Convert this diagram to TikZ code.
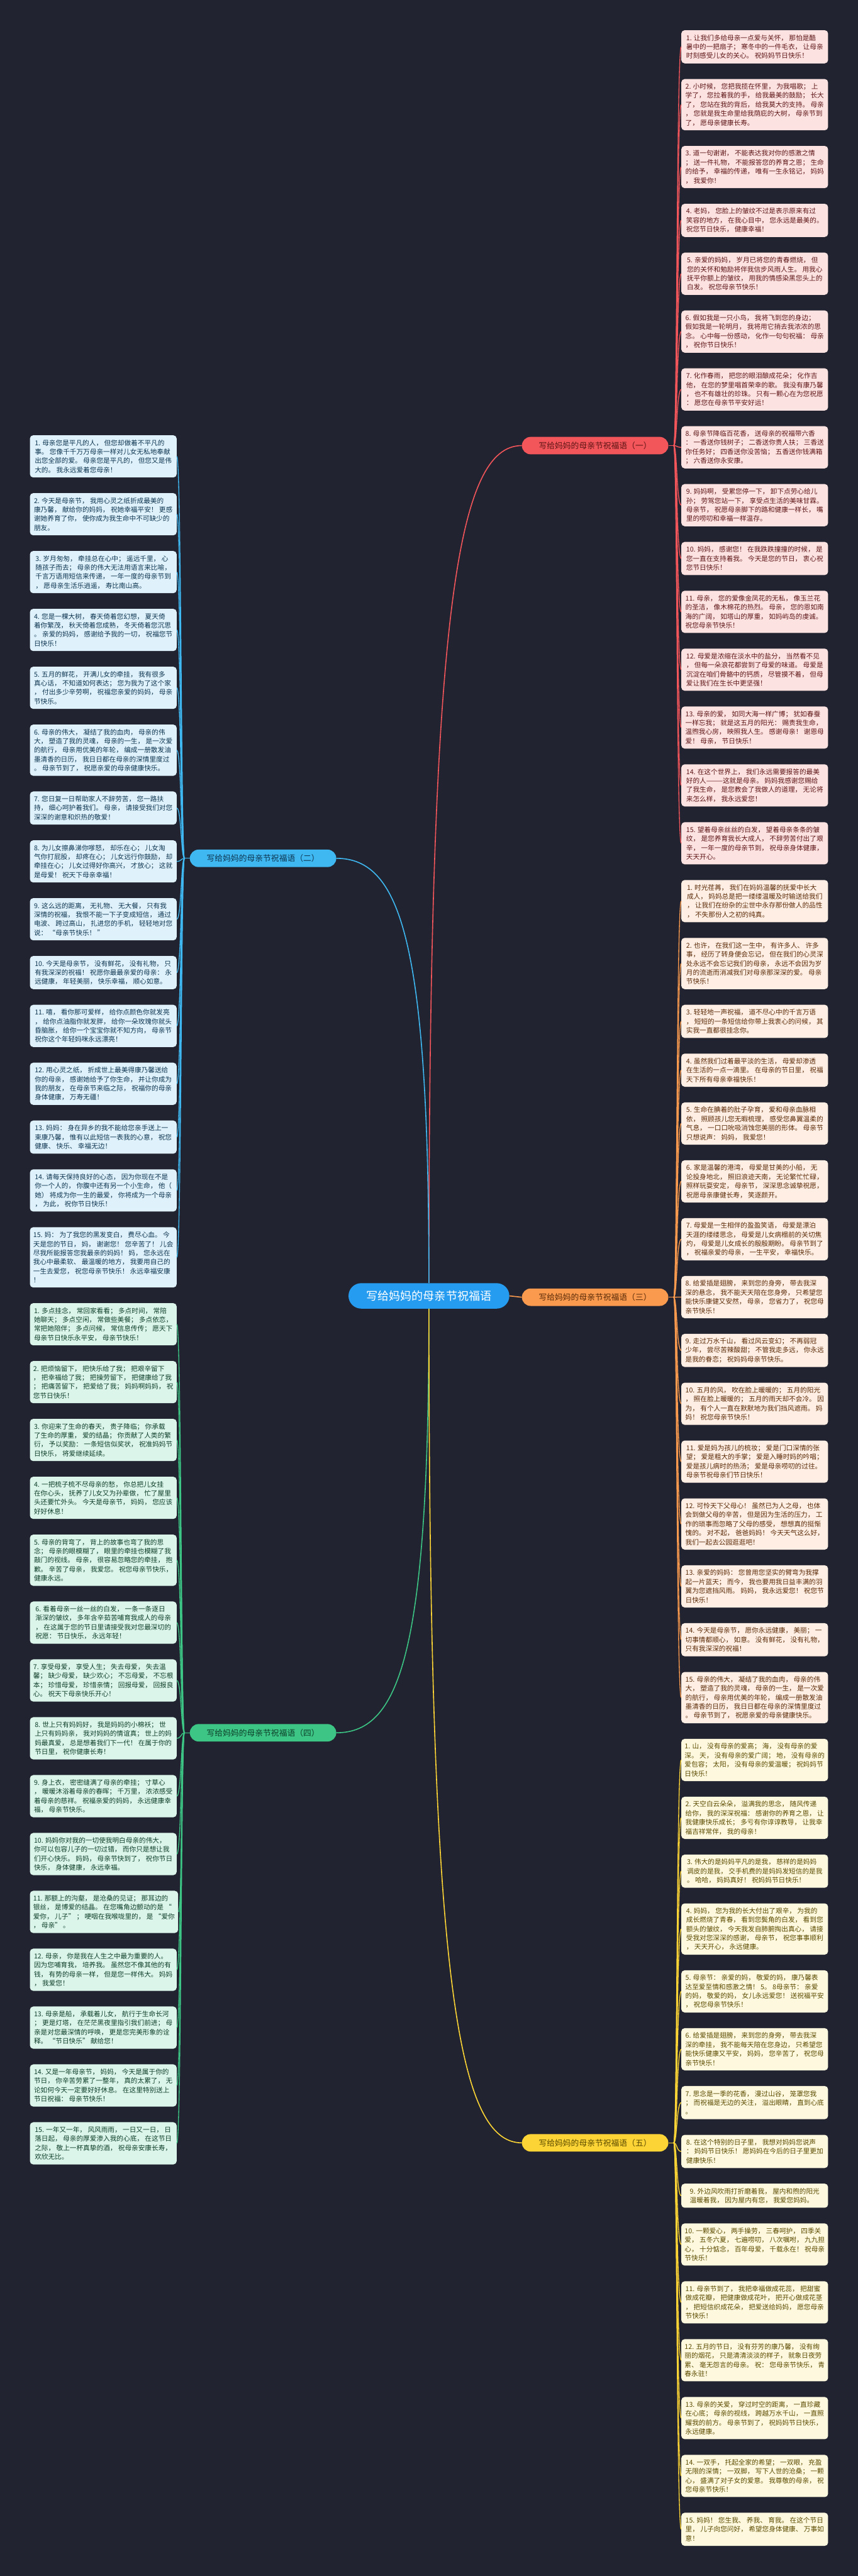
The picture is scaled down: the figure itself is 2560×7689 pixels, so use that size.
\documentclass[tikz,border=0pt]{standalone}
\usepackage{fontspec}
\setmainfont{Noto Sans CJK SC}
\usetikzlibrary{calc}
\definecolor{bg}{HTML}{212430}
\definecolor{cred}{HTML}{F2555A}\definecolor{credf}{HTML}{FDE2E2}\definecolor{credt}{HTML}{5E1616}
\definecolor{cora}{HTML}{F99A4E}\definecolor{coraf}{HTML}{FEEEE3}\definecolor{corat}{HTML}{5B2B08}
\definecolor{cyel}{HTML}{FCD435}\definecolor{cyelf}{HTML}{FDF8DE}\definecolor{cyelt}{HTML}{5C4B00}
\definecolor{cblu}{HTML}{3FB8F2}\definecolor{cbluf}{HTML}{DFF2FC}\definecolor{cblut}{HTML}{0E3550}
\definecolor{cgre}{HTML}{3CC584}\definecolor{cgref}{HTML}{DCF5EA}\definecolor{cgret}{HTML}{0E3F2B}
\definecolor{ccen}{HTML}{259CF0}
\newcommand\ycur{0}
\newcommand\xcur{0}
\newcommand\leafnode[4]{%
  \pgfmathsetmacro\leafh{27*#2+18}%
  \node[#3, minimum height=\leafh pt, anchor=north west] (#1) at (\xcur,\ycur) {#4};%
  \pgfmathparse{\ycur+\leafh+46.7}\xdef\ycur{\pgfmathresult}%
}
\tikzset{
  leafbase/.style={rounded corners=10pt, minimum width=438pt, inner xsep=10pt, inner ysep=0pt, align=left, font={\fontsize{20pt}{27pt}\selectfont}},
  redleaf/.style={leafbase, fill=credf, text=credt},
  oraleaf/.style={leafbase, fill=coraf, text=corat},
  yelleaf/.style={leafbase, fill=cyelf, text=cyelt},
  bluleaf/.style={leafbase, fill=cbluf, text=cblut},
  greleaf/.style={leafbase, fill=cgref, text=cgret},
  branchlabel/.style={rounded corners=26pt, minimum width=437pt, minimum height=52pt, inner sep=0pt, font={\fontsize{24pt}{28pt}\selectfont}},
  bconn/.style={line width=3pt},
  lconn/.style={line width=2.5pt},
}
\begin{document}
\begin{tikzpicture}[x=1pt,y=-1pt]
\fill[bg] (0,0) rectangle (2560,7689);
\useasboundingbox (0,0) rectangle (2560,7689);

% central and branch nodes
\node[rounded corners=38pt, minimum width=480pt, minimum height=76pt, fill=ccen, text=white, font={\fontsize{34pt}{40pt}\selectfont}] (c) at (1280,3868) {写给妈妈的母亲节祝福语};
\node[branchlabel, fill=cred, text=credt] (b1) at (1776,1330) {写给妈妈的母亲节祝福语（一）};
\node[branchlabel, fill=cblu, text=cblut] (b2) at (785,2562) {写给妈妈的母亲节祝福语（二）};
\node[branchlabel, fill=cora, text=corat] (b3) at (1776,3872) {写给妈妈的母亲节祝福语（三）};
\node[branchlabel, fill=cgre, text=cgret] (b4) at (785,5172) {写给妈妈的母亲节祝福语（四）};
\node[branchlabel, fill=cyel, text=cyelt] (b5) at (1776,6396) {写给妈妈的母亲节祝福语（五）};

% ---------- right column ----------
\xdef\xcur{2033}\xdef\ycur{90}
\leafnode{r1}{3}{redleaf}{1. 让我们多给母亲一点爱与关怀， 那怕是酷\\暑中的一把扇子； 寒冬中的一件毛衣， 让母亲\\时刻感受儿女的关心。 祝妈妈节日快乐！}
\leafnode{r2}{5}{redleaf}{2. 小时候， 您把我揽在怀里， 为我唱歌； 上\\学了， 您拉着我的手， 给我最美的鼓励； 长大\\了， 您站在我的背后， 给我莫大的支持。 母亲\\， 您就是我生命里给我荫庇的大树， 母亲节到\\了， 愿母亲健康长寿。}
\leafnode{r3}{4}{redleaf}{3. 道一句谢谢， 不能表达我对你的感激之情\\； 送一件礼物， 不能报答您的养育之恩； 生命\\的给予， 幸福的传递， 唯有一生永铭记， 妈妈\\， 我爱你！}
\leafnode{r4}{3}{redleaf}{4. 老妈， 您脸上的皱纹不过是表示原来有过\\笑容的地方， 在我心目中， 您永远是最美的。\\祝您节日快乐， 健康幸福！}
\leafnode{r5}{4}{redleaf}{5. 亲爱的妈妈， 岁月已将您的青春燃烧， 但\\您的关怀和勉励将伴我信步风雨人生。 用我心\\抚平你额上的皱纹， 用我的情感染黑您头上的\\白发。 祝您母亲节快乐！}
\leafnode{r6}{4}{redleaf}{6. 假如我是一只小鸟， 我将飞到您的身边；\\假如我是一轮明月， 我将用它捎去我浓浓的思\\念。 心中每一份感动， 化作一句句祝福： 母亲\\， 祝你节日快乐！}
\leafnode{r7}{4}{redleaf}{7. 化作春雨， 把您的眼泪酿成花朵； 化作吉\\他， 在您的梦里唱首荣幸的歌。 我没有康乃馨\\， 也不有雄壮的珍珠。 只有一颗心在为您祝愿\\： 愿您在母亲节平安好运！}
\leafnode{r8}{4}{redleaf}{8. 母亲节降临百花香， 送母亲的祝福带六香\\： 一香送你钱树子； 二香送你贵人扶； 三香送\\你任务好； 四香送你没苦恼； 五香送你钱满箱\\； 六香送你永安康。}
\leafnode{r9}{4}{redleaf}{9. 妈妈啊， 受累您停一下， 卸下点劳心给儿\\孙； 劳驾您站一下， 享受点生活的美味甘霖。\\母亲节， 祝愿母亲脚下的路和健康一样长， 嘴\\里的唠叨和幸福一样温存。}
\leafnode{r10}{3}{redleaf}{10. 妈妈， 感谢您！ 在我跌跌撞撞的时候， 是\\您一直在支持着我。 今天是您的节日， 衷心祝\\您节日快乐！}
\leafnode{r11}{4}{redleaf}{11. 母亲， 您的爱像金凤花的无私， 像玉兰花\\的圣洁， 像木棉花的热烈。 母亲， 您的恩如南\\海的广阔， 如塔山的厚重， 如妈屿岛的虔诚。\\祝您母亲节快乐！}
\leafnode{r12}{4}{redleaf}{12. 母爱是浓缩在淡水中的盐分， 当然看不见\\， 但每一朵浪花都尝到了母爱的味道。 母爱是\\沉淀在咱们骨骼中的钙质， 尽管摸不着， 但母\\爱让我们在生长中更坚强！}
\leafnode{r13}{4}{redleaf}{13. 母亲的爱， 如同大海一样广博； 犹如春蚕\\一样忘我； 就是这五月的阳光： 赐责我生命，\\温煦我心房， 映照我人生。 感谢母亲！ 谢恩母\\爱！ 母亲， 节日快乐！}
\leafnode{r14}{4}{redleaf}{14. 在这个世界上， 我们永远需要报答的最美\\好的人———这就是母亲。 妈妈我感谢您赐给\\了我生命， 是您教会了我做人的道理， 无论将\\来怎么样， 我永远爱您！}
\leafnode{r15}{4}{redleaf}{15. 望着母亲丝丝的白发， 望着母亲条条的皱\\纹， 是您养育我长大成人， 不辞劳苦付出了艰\\辛， 一年一度的母亲节到， 祝母亲身体健康，\\天天开心。}
\leafnode{o1}{4}{oraleaf}{1. 时光荏苒， 我们在妈妈温馨的抚爱中长大\\成人， 妈妈总是把一缕缕温暖及时输送给我们\\， 让我们在纷杂的尘世中永存那份做人的品性\\， 不失那份人之初的纯真。}
\leafnode{o2}{5}{oraleaf}{2. 也许， 在我们这一生中， 有许多人、 许多\\事， 经历了转身便会忘记， 但在我们的心灵深\\处永远不会忘记我们的母亲， 永远不会因为岁\\月的流逝而消减我们对母亲那深深的爱。 母亲\\节快乐！}
\leafnode{o3}{3}{oraleaf}{3. 轻轻地一声祝福， 道不尽心中的千言万语\\， 短短的一条短信给你带上我衷心的问候， 其\\实我一直都很挂念你。}
\leafnode{o4}{3}{oraleaf}{4. 虽然我们过着最平淡的生活， 母爱却渗透\\在生活的一点一滴里。 在母亲的节日里， 祝福\\天下所有母亲幸福快乐！}
\leafnode{o5}{4}{oraleaf}{5. 生命在腆着的肚子孕育， 爱和母亲血脉相\\依， 照顾孩儿您无暇梳理， 感受您鼻翼温柔的\\气息， 一口口吮吸消蚀您美丽的形体。 母亲节\\只想说声： 妈妈， 我爱您！}
\leafnode{o6}{4}{oraleaf}{6. 家是温馨的港湾， 母爱是甘美的小船， 无\\论投身地北， 照旧浪迹天南， 无论繁忙忙碌，\\照样玩耍安定， 母亲节， 深深思念诚挚祝愿，\\祝愿母亲康健长寿， 笑逐颜开。}
\leafnode{o7}{4}{oraleaf}{7. 母爱是一生相伴的盈盈笑语， 母爱是漂泊\\天涯的缕缕思念， 母爱是儿女病榻前的关切焦\\灼， 母爱是儿女成长的殷殷期盼。 母亲节到了\\， 祝福亲爱的母亲， 一生平安， 幸福快乐。}
\leafnode{o8}{4}{oraleaf}{8. 给爱插是翅膀， 来到您的身旁， 带去我深\\深的悬念， 我不能天天陪在您身旁， 只希望您\\能快乐康健又安然， 母亲， 您省力了， 祝您母\\亲节快乐！}
\leafnode{o9}{3}{oraleaf}{9. 走过万水千山， 看过风云变幻； 不再弱冠\\少年， 尝尽苦辣酸甜； 不管我走多远， 你永远\\是我的眷恋； 祝妈妈母亲节快乐。}
\leafnode{o10}{4}{oraleaf}{10. 五月的风， 吹在脸上暖暖的； 五月的阳光\\， 照在脸上暖暖的； 五月的雨天却不会冷。 因\\为， 有个人一直在默默地为我们挡风遮雨。 妈\\妈！ 祝您母亲节快乐！}
\leafnode{o11}{4}{oraleaf}{11. 爱是妈为孩儿的梳妆； 爱是门口深情的张\\望； 爱是粗大的手掌； 爱是入睡时妈的吟唱；\\爱是孩儿病时的热汤； 爱是母亲唠叨的过往。\\母亲节祝母亲们节日快乐！}
\leafnode{o12}{5}{oraleaf}{12. 可怜天下父母心！ 虽然已为人之母， 也体\\会到做父母的辛苦， 但是因为生活的压力， 工\\作的琐事而忽略了父母的感受， 想想真的挺惭\\愧的。 对不起， 爸爸妈妈！ 今天天气这么好，\\我们一起去公园逛逛吧！}
\leafnode{o13}{4}{oraleaf}{13. 亲爱的妈妈： 您曾用您坚实的臂弯为我撑\\起一片蓝天； 而今， 我也要用我日益丰满的羽\\翼为您遮挡风雨。 妈妈， 我永远爱您！ 祝您节\\日快乐！}
\leafnode{o14}{3}{oraleaf}{14. 今天是母亲节， 愿你永远健康， 美丽； 一\\切事情都顺心， 如意。 没有鲜花， 没有礼物，\\只有我深深的祝福！}
\leafnode{o15}{5}{oraleaf}{15. 母亲的伟大， 凝结了我的血肉， 母亲的伟\\大， 塑造了我的灵魂， 母亲的一生， 是一次爱\\的航行， 母亲用优美的年轮， 编成一册散发油\\墨清香的日历， 我日日都在母亲的深情里度过\\。 母亲节到了， 祝愿亲爱的母亲健康快乐。}
\leafnode{y1}{4}{yelleaf}{1. 山， 没有母亲的爱高； 海， 没有母亲的爱\\深。 天， 没有母亲的爱广阔； 地， 没有母亲的\\爱包容； 太阳， 没有母亲的爱温暖； 祝妈妈节\\日快乐！}
\leafnode{y2}{4}{yelleaf}{2. 天空白云朵朵， 溢满我的思念， 随风传递\\给你， 我的深深祝福： 感谢你的养育之恩， 让\\我健康快乐成长； 多亏有你谆谆教导， 让我幸\\福吉祥常伴， 我的母亲！}
\leafnode{y3}{3}{yelleaf}{3. 伟大的是妈妈平凡的是我， 慈祥的是妈妈\\调皮的是我， 交手机费的是妈妈发短信的是我\\。 哈哈， 妈妈真好！ 祝妈妈节日快乐！}
\leafnode{y4}{5}{yelleaf}{4. 妈妈， 您为我的长大付出了艰辛， 为我的\\成长燃烧了青春， 看到您鬓角的白发， 看到您\\额头的皱纹， 今天我发自肺腑掏出真心， 请接\\受我对您深深的感谢， 母亲节， 祝您事事顺利\\， 天天开心， 永远健康。}
\leafnode{y5}{4}{yelleaf}{5. 母亲节： 亲爱的妈， 敬爱的妈， 康乃馨表\\达至爱至情和感激之情！ 5。 8母亲节： 亲爱\\的妈， 敬爱的妈， 女儿永远爱您！ 送祝福平安\\， 祝您母亲节快乐！}
\leafnode{y6}{4}{yelleaf}{6. 给爱插是翅膀， 来到您的身旁， 带去我深\\深的牵挂， 我不能每天陪在您身边， 只希望您\\能快乐健康又平安， 妈妈， 您辛苦了， 祝您母\\亲节快乐！}
\leafnode{y7}{3}{yelleaf}{7. 思念是一季的花香， 漫过山谷， 笼罩您我\\； 而祝福是无边的关注， 溢出眼睛， 直到心底\\。}
\leafnode{y8}{3}{yelleaf}{8. 在这个特别的日子里， 我想对妈妈您说声\\： 妈妈节日快乐！ 愿妈妈在今后的日子里更加\\健康快乐！}
\leafnode{y9}{2}{yelleaf}{9. 外边风吹雨打折磨着我， 屋内和煦的阳光\\温暖着我， 因为屋内有您， 我爱您妈妈。}
\leafnode{y10}{4}{yelleaf}{10. 一颗爱心， 两手操劳， 三春呵护， 四季关\\爱， 五冬六夏， 七遍唠叨， 八次嘱咐， 九九担\\心， 十分惦念， 百年母爱， 千载永在！ 祝母亲\\节快乐！}
\leafnode{y11}{4}{yelleaf}{11. 母亲节到了， 我把幸福做成花蕊， 把甜蜜\\做成花瓣， 把健康做成花叶， 把开心做成花茎\\， 把短信织成花朵， 把爱送给妈妈， 愿您母亲\\节快乐！}
\leafnode{y12}{4}{yelleaf}{12. 五月的节日， 没有芬芳的康乃馨， 没有绚\\丽的烟花， 只是清清淡淡的样子， 就象日夜劳\\累、 毫无怨言的母亲。 祝： 您母亲节快乐， 青\\春永驻！}
\leafnode{y13}{4}{yelleaf}{13. 母亲的关爱， 穿过时空的距离， 一直珍藏\\在心底； 母亲的视线， 跨越万水千山， 一直照\\耀我的前方。 母亲节到了， 祝妈妈节日快乐，\\永远健康。}
\leafnode{y14}{4}{yelleaf}{14. 一双手， 托起全家的希望； 一双眼， 充盈\\无限的深情； 一双脚， 写下人世的沧桑； 一颗\\心， 盛满了对子女的爱意。 我尊敬的母亲， 祝\\您母亲节快乐！}
\leafnode{y15}{3}{yelleaf}{15. 妈妈！ 您生我、 养我、 育我。 在这个节日\\里， 儿子向您问好， 希望您身体健康、 万事如\\意！}

% ---------- left column ----------
\xdef\xcur{89}\xdef\ycur{1299}
\leafnode{l1}{4}{bluleaf}{1. 母亲您是平凡的人， 但您却做着不平凡的\\事。 您像千千万万母亲一样对儿女无私地奉献\\出您全部的爱。 母亲您是平凡的， 但您又是伟\\大的。 我永远爱着您母亲！}
\leafnode{l2}{4}{bluleaf}{2. 今天是母亲节， 我用心灵之纸折成最美的\\康乃馨， 献给你的妈妈， 祝她幸福平安！ 更感\\谢她养育了你， 使你成为我生命中不可缺少的\\朋友。}
\leafnode{l3}{4}{bluleaf}{3. 岁月匆匆， 牵挂总在心中； 遥远千里， 心\\随孩子而去； 母亲的伟大无法用语言来比喻，\\千言万语用短信来传递， 一年一度的母亲节到\\， 愿母亲生活乐逍遥， 寿比南山高。}
\leafnode{l4}{4}{bluleaf}{4. 您是一棵大树， 春天倚着您幻想， 夏天倚\\着你繁茂， 秋天倚着您成熟， 冬天倚着您沉思\\。 亲爱的妈妈， 感谢给予我的一切， 祝福您节\\日快乐！}
\leafnode{l5}{4}{bluleaf}{5. 五月的鲜花， 开满儿女的牵挂， 我有很多\\真心话， 不知道如何表达； 您为我为了这个家\\， 付出多少辛劳啊， 祝福您亲爱的妈妈， 母亲\\节快乐。}
\leafnode{l6}{5}{bluleaf}{6. 母亲的伟大， 凝结了我的血肉， 母亲的伟\\大， 塑造了我的灵魂， 母亲的一生， 是一次爱\\的航行， 母亲用优美的年轮， 编成一册散发油\\墨清香的日历， 我日日都在母亲的深情里度过\\。 母亲节到了， 祝愿亲爱的母亲健康快乐。}
\leafnode{l7}{3}{bluleaf}{7. 您日复一日帮助家人不辞劳苦， 您一路扶\\持， 细心呵护着我们。 母亲， 请接受我们对您\\深深的谢意和炽热的敬爱！}
\leafnode{l8}{4}{bluleaf}{8. 为儿女擦鼻涕你嗲怒， 却乐在心； 儿女淘\\气你打屁股， 却疼在心； 儿女远行你鼓励， 却\\牵挂在心； 儿女过得好你高兴， 才放心； 这就\\是母爱！ 祝天下母亲幸福！}
\leafnode{l9}{4}{bluleaf}{9. 这么远的距离， 无礼物、 无大餐， 只有我\\深情的祝福， 我恨不能一下子变成短信， 通过\\电波、 跨过高山， 扎进您的手机， 轻轻地对您\\说： “母亲节快乐！ ”}
\leafnode{l10}{3}{bluleaf}{10. 今天是母亲节， 没有鲜花， 没有礼物， 只\\有我深深的祝福！ 祝愿你最最亲爱的母亲： 永\\远健康， 年轻美丽， 快乐幸福， 顺心如意。}
\leafnode{l11}{4}{bluleaf}{11. 嘻， 看你那可爱样， 给你点颜色你就发亮\\， 给你点油脂你就发胖， 给你一朵玫瑰你就头\\昏脑胀， 给你一个宝宝你就不知方向， 母亲节\\祝你这个年轻妈咪永远漂亮！}
\leafnode{l12}{4}{bluleaf}{12. 用心灵之纸， 折成世上最美得康乃馨送给\\你的母亲， 感谢她给予了你生命， 并让你成为\\我的朋友， 在母亲节来临之际， 祝福你的母亲\\身体健康， 万寿无疆！}
\leafnode{l13}{3}{bluleaf}{13. 妈妈： 身在异乡的我不能给您亲手送上一\\束康乃馨， 惟有以此短信一表我的心意， 祝您\\健康、 快乐、 幸福无边！}
\leafnode{l14}{4}{bluleaf}{14. 请每天保持良好的心态， 因为你现在不是\\你一个人的， 你腹中还有另一个小生命， 他（\\她） 将成为你一生的最爱， 你将成为一个母亲\\， 为此， 祝你节日快乐！}
\leafnode{l15}{6}{bluleaf}{15. 妈： 为了我您的黑发变白， 费尽心血。 今\\天是您的节日， 妈， 谢谢您！ 您辛苦了！ 儿会\\尽我所能报答您我最亲的妈妈！ 妈， 您永远在\\我心中最柔软、 最温暖的地方， 我要用自己的\\一生去爱您， 祝您母亲节快乐！ 永远幸福安康\\！}
\leafnode{g1}{4}{greleaf}{1. 多点挂念， 常回家看看； 多点时间， 常陪\\她聊天； 多点空闲， 常做些美餐； 多点依恋，\\常把她陪伴； 多点问候， 常信息传传； 愿天下\\母亲节日快乐永平安， 母亲节快乐！}
\leafnode{g2}{4}{greleaf}{2. 把烦恼留下， 把快乐给了我； 把艰辛留下\\， 把幸福给了我； 把操劳留下， 把健康给了我\\； 把痛苦留下， 把爱给了我； 妈妈啊妈妈， 祝\\您节日快乐！}
\leafnode{g3}{4}{greleaf}{3. 你迎来了生命的春天， 贵子降临； 你承载\\了生命的厚重， 爱的结晶； 你贡献了人类的繁\\衍， 予以奖励： 一条短信似奖状， 祝准妈妈节\\日快乐， 将爱继续延续。}
\leafnode{g4}{4}{greleaf}{4. 一把梳子梳不尽母亲的愁， 你总把儿女挂\\在你心头， 抚养了儿女又为孙辈做， 忙了屋里\\头还要忙外头。 今天是母亲节， 妈妈， 您应该\\好好休息！}
\leafnode{g5}{5}{greleaf}{5. 母亲的背弯了， 背上的故事也弯了我的思\\念； 母亲的眼模糊了， 眼里的牵挂也模糊了我\\敲门的视线。 母亲， 很容易忽略您的牵挂， 抱\\歉。 辛苦了母亲， 我爱您。 祝您母亲节快乐，\\健康永远。}
\leafnode{g6}{4}{greleaf}{6. 看着母亲一丝一丝的白发， 一条一条逐日\\渐深的皱纹， 多年含辛茹苦哺育我成人的母亲\\， 在这属于您的节日里请接受我对您最深切的\\祝愿： 节日快乐， 永远年轻！}
\leafnode{g7}{4}{greleaf}{7. 享受母爱， 享受人生； 失去母爱， 失去温\\馨； 缺少母爱， 缺少欢心； 不忘母爱， 不忘根\\本； 珍惜母爱， 珍惜亲情； 回报母爱， 回报良\\心。 祝天下母亲快乐开心！}
\leafnode{g8}{4}{greleaf}{8. 世上只有妈妈好， 我是妈妈的小棉袄； 世\\上只有妈妈亲， 我对妈妈的情谊真； 世上的妈\\妈最真爱， 总是想着我们下一代！ 在属于你的\\节日里， 祝你健康长寿！}
\leafnode{g9}{4}{greleaf}{9. 身上衣， 密密缝满了母亲的牵挂； 寸草心\\， 暖暖沐浴着母亲的春晖； 千万里， 浓浓感受\\着母亲的慈祥。 祝福亲爱的妈妈， 永远健康幸\\福， 母亲节快乐。}
\leafnode{g10}{4}{greleaf}{10. 妈妈你对我的一切使我明白母亲的伟大，\\你可以包容儿子的一切过错， 而你只是想让我\\们开心快乐。 妈妈， 母亲节快到了， 祝你节日\\快乐， 身体健康， 永远幸福。}
\leafnode{g11}{4}{greleaf}{11. 那额上的沟壑， 是沧桑的见证； 那耳边的\\银丝， 是博爱的结晶。 在您嘴角边颤动的是 “\\爱你， 儿子” ； 哽咽在我喉咙里的， 是 “爱你\\， 母亲” 。}
\leafnode{g12}{4}{greleaf}{12. 母亲， 你是我在人生之中最为重要的人。\\因为您哺育我， 培养我。 虽然您不像其他的有\\钱， 有势的母亲一样， 但是您一样伟大。 妈妈\\， 我爱您！}
\leafnode{g13}{4}{greleaf}{13. 母亲是船， 承载着儿女， 航行于生命长河\\； 更是灯塔， 在茫茫黑夜里指引我们前进； 母\\亲是对您最深情的呼唤， 更是您完美形象的诠\\释。 “节日快乐” 献给您！}
\leafnode{g14}{4}{greleaf}{14. 又是一年母亲节， 妈妈， 今天是属于你的\\节日， 你辛苦劳累了一整年， 真的太累了， 无\\论如何今天一定要好好休息。 在这里特别送上\\节日祝福： 母亲节快乐！}
\leafnode{g15}{4}{greleaf}{15. 一年又一年， 风风雨雨， 一日又一日， 日\\落日起， 母亲的厚爱渗入我的心底， 在这节日\\之际， 敬上一杯真挚的酒， 祝母亲安康长寿，\\欢欣无比。}

% ---------- branch connectors ----------
\draw[bconn, cred] (c.north) .. controls ($(c.north)!0.8!(c.north |- b1.west)$) and ($(c.north |- b1.west)!0.3!(b1.west)$) .. (b1.west);
\draw[bconn, cblu] (c.north) .. controls ($(c.north)!0.8!(c.north |- b2.east)$) and ($(c.north |- b2.east)!0.3!(b2.east)$) .. (b2.east);
\draw[bconn, cora] (c.east) -- (b3.west);
\draw[bconn, cgre] (c.south) .. controls ($(c.south)!0.8!(c.south |- b4.east)$) and ($(c.south |- b4.east)!0.3!(b4.east)$) .. (b4.east);
\draw[bconn, cyel] (c.south) .. controls ($(c.south)!0.8!(c.south |- b5.west)$) and ($(c.south |- b5.west)!0.3!(b5.west)$) .. (b5.west);

% ---------- leaf connectors ----------
\coordinate (j1) at ([xshift=16pt]b1.east);
\coordinate (j3) at ([xshift=16pt]b3.east);
\coordinate (j5) at ([xshift=16pt]b5.east);
\coordinate (j2) at ([xshift=-16pt]b2.west);
\coordinate (j4) at ([xshift=-16pt]b4.west);
\draw[lconn, cred] (b1.east) -- (j1);
\draw[lconn, cora] (b3.east) -- (j3);
\draw[lconn, cyel] (b5.east) -- (j5);
\draw[lconn, cblu] (b2.west) -- (j2);
\draw[lconn, cgre] (b4.west) -- (j4);
\foreach \i in {1,...,15} {
  \draw[lconn, cred] (j1) .. controls +(10,0) and +(-14,0) .. (r\i.west);
  \draw[lconn, cora] (j3) .. controls +(10,0) and +(-14,0) .. (o\i.west);
  \draw[lconn, cyel] (j5) .. controls +(10,0) and +(-14,0) .. (y\i.west);
  \draw[lconn, cblu] (j2) .. controls +(-10,0) and +(14,0) .. (l\i.east);
  \draw[lconn, cgre] (j4) .. controls +(-10,0) and +(14,0) .. (g\i.east);
}
\end{tikzpicture}
\end{document}
